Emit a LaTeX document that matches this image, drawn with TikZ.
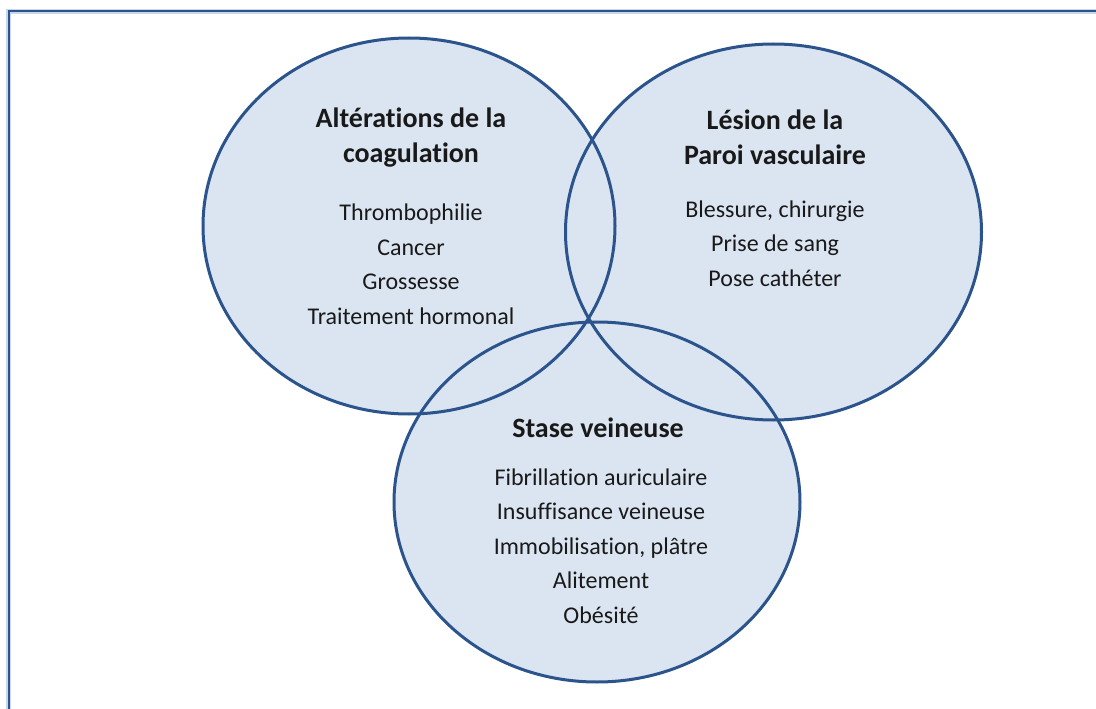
\documentclass[tikz,border=0pt]{standalone}
\usepackage{fontspec}
\setmainfont[Ligatures=NoCommon]{Carlito}
\usepackage{tikz}
\definecolor{ringblue}{RGB}{44,84,140}
\definecolor{paleblue}{RGB}{219,229,241}
\definecolor{halo}{RGB}{200,215,235}
\usetikzlibrary{positioning}
\tikzset{
x=1pt, y=-1pt, % one unit is one pixel of the page
ringfill/.style={fill=paleblue}, % inside of each circle
ring/.style={draw=ringblue, line width=3pt}, % outline of each circle
frame/.style={draw=ringblue, line width=2pt}, % the open box round the picture
title/.style={font=\bfseries\fontsize{28}{35}\selectfont, align=center, text=black!90},
items/.style={font=\fontsize{24}{34.5}\selectfont, align=center, text=black!90},
}

\begin{document}
\begin{tikzpicture}
      \useasboundingbox (0,0) rectangle (1096,709);
      \fill[white] (0,0) rectangle (1096,709);

      \coordinate (corner) at (8.5,11.5);
      \coordinate (foot) at (8.5,709);
      \coordinate (edge) at (1096,11.5);
      \draw[halo, line width=4.5pt] (foot) -- (corner) -- (edge);
      \draw[frame] (foot) -- (corner) -- (edge);

      \coordinate (coag) at (409,226);
      \coordinate (paroi) at (773.5,232);
      \coordinate (stase) at (597,502);

      \fill[ringfill] (coag) ellipse [x radius=206pt, y radius=188pt];
      \fill[ringfill] (paroi) ellipse [x radius=208pt, y radius=188pt];
      \fill[ringfill] (stase) ellipse [x radius=203pt, y radius=180pt];
      \draw[ring] (coag) ellipse [x radius=206pt, y radius=188pt];
      \draw[ring] (paroi) ellipse [x radius=208pt, y radius=188pt];
      \draw[ring] (stase) ellipse [x radius=203pt, y radius=180pt];

      \node[title] (coagtitle) at (411,137.5) {Altérations de la\\coagulation};
      \node[items] (coagitems) at (411,264.5) {Thrombophilie\\Cancer\\Grossesse\\Traitement hormonal};
      \node[title] (paroititle) at (775,137.5) {Lésion de la\\Paroi vasculaire};
      \node[items] (paroiitems) at (775,243.5) {Blessure, chirurgie\\Prise de sang\\Pose cathéter};
      \node[title] (stasetitle) at (598,428) {Stase veineuse};
      \node[items] (staseitems) at (601,546) {Fibrillation auriculaire\\Insuffisance veineuse\\Immobilisation, plâtre\\Alitement\\Obésité};
    \end{tikzpicture}
\end{document}
